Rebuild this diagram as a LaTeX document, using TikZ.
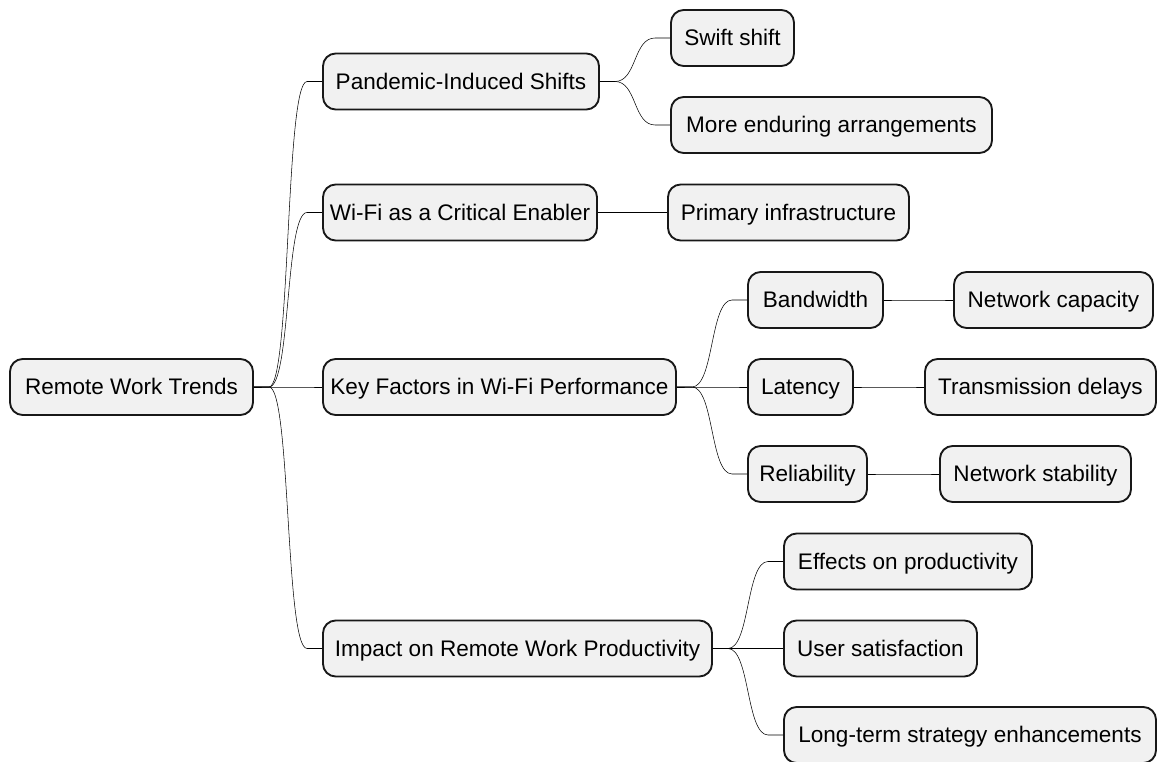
\documentclass[tikz,border=0pt]{standalone}
\usepackage{fontspec}
\setmainfont{Liberation Sans}
\usetikzlibrary{calc}
\definecolor{boxfill}{HTML}{F1F1F1}
\definecolor{boxline}{HTML}{181818}
\definecolor{linkcol}{HTML}{303030}
\tikzset{
  mm/.style={draw=boxline, line width=1.4pt, fill=boxfill, rounded corners=9.5pt,
    minimum height=56*0.75pt, inner sep=0pt, text=black,
    text height=14pt, text depth=2.5pt,
    font=\fontsize{16.9}{20}\selectfont},
  link/.style={draw=linkcol, line width=0.8pt,
    to path={-- ++(15,0) .. controls +(22,0) and +(-22,0) .. ([xshift=-11.25pt]\tikztotarget) -- (\tikztotarget)}}
}
\begin{document}
\begin{tikzpicture}[x=0.75pt,y=-0.75pt]
\useasboundingbox (0,0) rectangle (1157,762);
\node[mm, minimum width=243*0.75pt] (root) at (131.5,387) {Remote Work Trends};
\node[mm, minimum width=276*0.75pt] (pand) at (461,81.5) {Pandemic-Induced Shifts};
\node[mm, minimum width=123*0.75pt] (swift) at (732.5,38) {Swift shift};
\node[mm, minimum width=321*0.75pt] (more) at (831.5,125) {More enduring arrangements};
\node[mm, minimum width=274*0.75pt] (wifi) at (460,212.5) {Wi-Fi as a Critical Enabler};
\node[mm, minimum width=241*0.75pt] (prim) at (788.5,212.5) {Primary infrastructure};
\node[mm, minimum width=353*0.75pt] (key) at (499.5,387) {Key Factors in Wi-Fi Performance};
\node[mm, minimum width=135*0.75pt] (band) at (815.5,300) {Bandwidth};
\node[mm, minimum width=199*0.75pt] (netcap) at (1053.5,300) {Network capacity};
\node[mm, minimum width=105*0.75pt] (lat) at (800.5,387) {Latency};
\node[mm, minimum width=231*0.75pt] (trans) at (1040.5,387) {Transmission delays};
\node[mm, minimum width=119*0.75pt] (rel) at (807.5,474) {Reliability};
\node[mm, minimum width=191*0.75pt] (netstab) at (1035.5,474) {Network stability};
\node[mm, minimum width=389*0.75pt] (impact) at (517.5,648.5) {Impact on Remote Work Productivity};
\node[mm, minimum width=248*0.75pt] (eff) at (908,561.5) {Effects on productivity};
\node[mm, minimum width=193*0.75pt] (user) at (880.5,648.5) {User satisfaction};
\node[mm, minimum width=372*0.75pt] (long) at (970,735) {Long-term strategy enhancements};

\draw (root.east) to[link] (pand.west);
\draw (root.east) to[link] (wifi.west);
\draw (root.east) to[link] (key.west);
\draw (root.east) to[link] (impact.west);
\draw (pand.east) to[link] (swift.west);
\draw (pand.east) to[link] (more.west);
\draw (wifi.east) to[link] (prim.west);
\draw (key.east) to[link] (band.west);
\draw (key.east) to[link] (lat.west);
\draw (key.east) to[link] (rel.west);
\draw (band.east) to[link] (netcap.west);
\draw (lat.east) to[link] (trans.west);
\draw (rel.east) to[link] (netstab.west);
\draw (impact.east) to[link] (eff.west);
\draw (impact.east) to[link] (user.west);
\draw (impact.east) to[link] (long.west);
\end{tikzpicture}
\end{document}
